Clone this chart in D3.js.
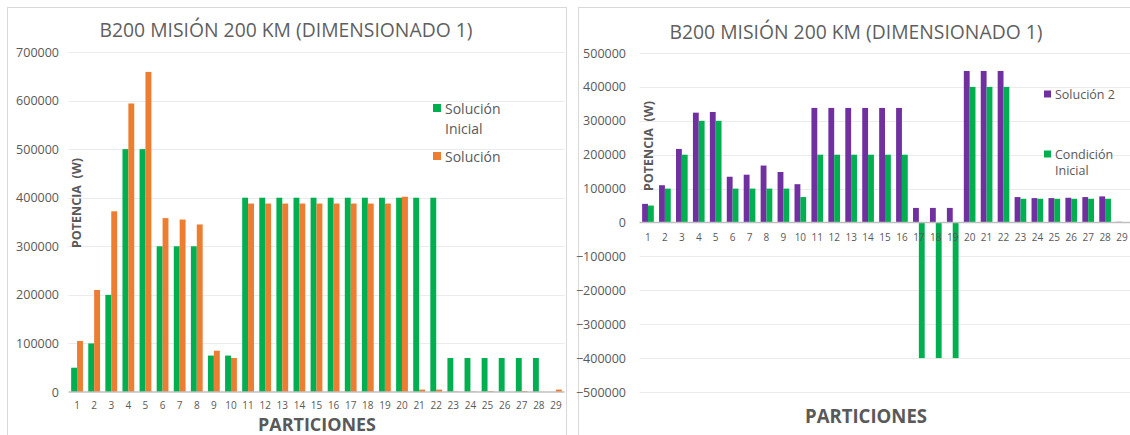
<!DOCTYPE html>
<html>
<head>
<meta charset="utf-8">
<script src="https://cdn.jsdelivr.net/npm/d3@7"></script>
<style>
  html, body { margin: 0; padding: 0; background: #fff; }
  svg { display: block; font-family: "Open Sans", "DejaVu Sans", sans-serif; }
</style>
</head>
<body>
<svg id="chart" width="1130" height="435"></svg>
<script>
// Partition numbers shared by both charts
const particiones = ["1","2","3","4","5","6","7","8","9","10","11","12","13","14","15",
  "16","17","18","19","20","21","22","23","24","25","26","27","28","29"];

// Left chart: initial solution vs. solution (W)
const izqSolucionInicial = [50000, 100000, 200000, 500000, 500000, 300000, 300000, 300000,
  75000, 75000, 400000, 400000, 400000, 400000, 400000, 400000, 400000, 400000, 400000,
  400000, 400000, 400000, 70000, 70000, 70000, 70000, 70000, 70000, 0];
const izqSolucion = [105000, 210000, 372000, 594000, 659000, 358000, 355000, 345000,
  85000, 70000, 388000, 388000, 388000, 388000, 388000, 388000, 388000, 388000, 388000,
  402000, 5000, 5000, 1000, 1000, 2000, 0, 2000, 0, 5000];
const izqTicks = [0, 100000, 200000, 300000, 400000, 500000, 600000, 700000];

// Right chart: solution 2 vs. initial condition (W)
const derSolucion2 = [55000, 110000, 217000, 324000, 326000, 135000, 141000, 168000,
  149000, 113000, 338000, 338000, 338000, 338000, 338000, 338000, 43000, 43000, 43000,
  447000, 447000, 447000, 75000, 72000, 72000, 73000, 75000, 77000, 2000];
const derCondicionInicial = [50000, 100000, 200000, 300000, 300000, 100000, 100000, 100000,
  100000, 75000, 200000, 200000, 200000, 200000, 200000, 200000, -400000, -400000, -400000,
  400000, 400000, 400000, 70000, 70000, 70000, 70000, 70000, 70000, 0];
const derTicks = [-500000, -400000, -300000, -200000, -100000, 0, 100000, 200000, 300000, 400000, 500000];

const titulo = "B200 MISIÓN 200 KM (DIMENSIONADO 1)";
const tituloEjeX = "PARTICIONES";
const tituloEjeY = "POTENCIA  (W)";

const VERDE = "#00B050", NARANJA = "#ED7D31", MORADO = "#7030A0";
const TEXTO = "#595959";

const svg = d3.select("#chart");

function dibujar(cfg) {
  const g = svg.append("g");

  // panel frame
  g.append("rect")
    .attr("x", cfg.frame[0] + 0.5).attr("y", cfg.frame[1] + 0.5)
    .attr("width", cfg.frame[2]).attr("height", cfg.frame[3])
    .attr("fill", "#fff").attr("stroke", "#D9D9D9");

  const y = d3.scaleLinear().domain(cfg.domain).range([cfg.bottom, cfg.top]);
  const x0 = d3.scaleBand().domain(particiones).range([cfg.left, cfg.right]).padding(0);
  const x1 = d3.scaleBand().domain(cfg.series.map(s => s.name))
    .range([0, x0.bandwidth()]).paddingInner(0).paddingOuter(0.45);

  // gridlines
  g.append("g")
    .selectAll("line").data(cfg.ticks.filter(t => t !== 0)).join("line")
    .attr("x1", cfg.left).attr("x2", cfg.right)
    .attr("y1", d => Math.round(y(d)) + 0.5).attr("y2", d => Math.round(y(d)) + 0.5)
    .attr("stroke", "#EBEBEB").attr("stroke-width", 1);

  // y tick labels
  const yAxis = d3.axisLeft(y).tickValues(cfg.ticks).tickSize(0).tickPadding(0)
    .tickFormat(d3.format("d"));
  const ya = g.append("g").attr("transform", `translate(${cfg.yLabelX},0)`).call(yAxis);
  ya.select(".domain").remove();
  ya.selectAll("text").attr("fill", TEXTO).style("font-size", "12.5px")
    .style("font-family", "'Open Sans', sans-serif");

  // bars
  cfg.series.forEach(s => {
    g.append("g").selectAll("rect")
      .data(s.values.map((v, i) => ({ cat: particiones[i], v })))
      .join("rect")
      .attr("x", d => x0(d.cat) + x1(s.name))
      .attr("width", x1.bandwidth())
      .attr("y", d => Math.min(y(d.v), y(0)))
      .attr("height", d => Math.abs(y(d.v) - y(0)))
      .attr("fill", s.color);
  });

  // zero axis line
  g.append("line")
    .attr("x1", cfg.left).attr("x2", cfg.right)
    .attr("y1", y(0)).attr("y2", y(0))
    .attr("stroke", "#BFBFBF").attr("stroke-width", 1.5);

  // category labels
  const xAxis = d3.axisBottom(x0).tickSize(0).tickPadding(0);
  const xa = g.append("g").attr("transform", `translate(0,${cfg.xLabelY})`).call(xAxis);
  xa.select(".domain").remove();
  xa.selectAll("text").attr("fill", TEXTO).attr("dy", "0.35em").style("font-size", "10px")
    .style("font-family", "'Open Sans', sans-serif");

  // title
  g.append("text").attr("x", cfg.titleX).attr("y", cfg.titleY)
    .attr("text-anchor", "middle").attr("dominant-baseline", "central")
    .attr("fill", "#5F5F5F").style("font-size", "19.5px")
    .attr("textLength", 373).attr("lengthAdjust", "spacingAndGlyphs")
    .text(titulo);

  // axis titles
  g.append("text").attr("x", cfg.xTitleX).attr("y", cfg.xTitleY)
    .attr("text-anchor", "middle")
    .attr("fill", TEXTO).style("font-size", cfg.xTitleSize + "px").style("font-weight", "700")
    .attr("textLength", cfg.xTitleW).attr("lengthAdjust", "spacingAndGlyphs")
    .text(tituloEjeX);
  g.append("text")
    .attr("transform", `translate(${cfg.yTitleX},${cfg.yTitleY}) rotate(-90)`)
    .attr("text-anchor", "middle").attr("dominant-baseline", "central")
    .attr("fill", TEXTO).style("font-size", "12.5px").style("font-weight", "700")
    .style("white-space", "pre").text(tituloEjeY);

  // legend
  cfg.legend.forEach(item => {
    const lg = g.append("g");
    lg.append("rect").attr("x", item.x).attr("y", item.y - item.size / 2)
      .attr("width", item.size).attr("height", item.size).attr("fill", item.color);
    item.lines.forEach((line, k) => {
      lg.append("text").attr("x", item.x + item.size + 4).attr("y", item.y + k * item.lh)
        .attr("dominant-baseline", "central").attr("fill", TEXTO)
        .style("font-size", item.font + "px").text(line);
    });
  });
}

dibujar({
  frame: [7, 7, 559, 440],
  domain: [0, 700000], ticks: izqTicks,
  top: 52, bottom: 392, left: 68.5, right: 564.5,
  yLabelX: 59, xLabelY: 405,
  titleX: 286, titleY: 29,
  xTitleX: 317, xTitleY: 431, xTitleW: 118, xTitleSize: 18.5,
  yTitleX: 76, yTitleY: 203,
  series: [
    { name: "Solución Inicial", values: izqSolucionInicial, color: VERDE },
    { name: "Solución", values: izqSolucion, color: NARANJA }
  ],
  legend: [
    { x: 433, y: 108, size: 8, color: VERDE, lines: ["Solución", "Inicial"], lh: 20, font: 14 },
    { x: 433, y: 156, size: 8, color: NARANJA, lines: ["Solución"], lh: 20, font: 14 }
  ]
});

dibujar({
  frame: [578, 7, 560, 440],
  domain: [-500000, 500000], ticks: derTicks,
  top: 53, bottom: 392, left: 639.5, right: 1130.5,
  yLabelX: 626, xLabelY: 237,
  titleX: 856, titleY: 31,
  xTitleX: 866, xTitleY: 423, xTitleW: 122, xTitleSize: 19.5,
  yTitleX: 648, yTitleY: 146,
  series: [
    { name: "Solución 2", values: derSolucion2, color: MORADO },
    { name: "Condición Inicial", values: derCondicionInicial, color: VERDE }
  ],
  legend: [
    { x: 1044, y: 94, size: 7, color: MORADO, lines: ["Solución 2"], lh: 16, font: 12.5 },
    { x: 1044, y: 154, size: 7, color: VERDE, lines: ["Condición", "Inicial"], lh: 16, font: 12.5 }
  ]
});
</script>
</body>
</html>
